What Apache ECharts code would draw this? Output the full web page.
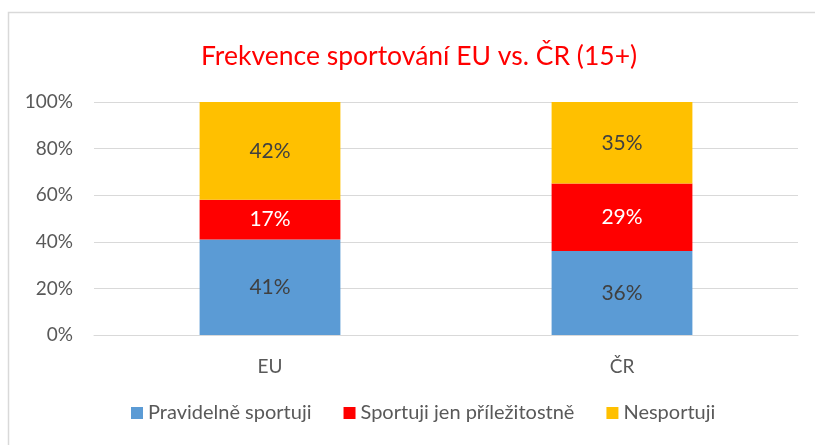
<!DOCTYPE html>
<html><head><meta charset="utf-8">
<script src="https://cdn.jsdelivr.net/npm/echarts@6/dist/echarts.min.js"></script>
<style>html,body{margin:0;padding:0;background:#fff}#c{width:815px;height:445px}</style>
</head><body><div id="c"></div>
<script>
var categories = ['EU', 'ČR'];
var regular = [41, 36];
var occasional = [17, 29];
var none = [42, 35];
var seriesNames = ['Pravidelně sportuji', 'Sportuji jen příležitostně', 'Nesportuji'];
var yTicks = [0, 20, 40, 60, 80, 100];

var font = 'Lato, "Open Sans", sans-serif';
var chart = echarts.init(document.getElementById('c'));
function lbl(color) {
  return { show: true, position: 'inside', color: color, fontSize: 21, fontFamily: font, formatter: function (p) { return p.value + '%'; } };
}
chart.setOption({
  animation: false,
  textStyle: { fontFamily: font },
  graphic: [{ type: 'rect', shape: { x: 8.5, y: 12.5, width: 900, height: 500 }, style: { fill: 'none', stroke: '#d9d9d9', lineWidth: 1.5 }, silent: true }],
  title: { text: 'Frekvence sportování EU vs. ČR (15+)', left: 196, top: 38, textStyle: { color: '#ff0000', fontSize: 26.5, fontWeight: 'normal', fontFamily: font } },
  grid: { left: 94, right: 17, top: 102, bottom: 110 },
  legend: {
    bottom: 17, left: 126, itemWidth: 12, itemHeight: 12, itemGap: 32, icon: 'rect',
    textStyle: { color: '#595959', fontSize: 20, fontFamily: font },
    data: seriesNames
  },
  xAxis: {
    type: 'category', data: categories,
    axisLine: { lineStyle: { color: '#d9d9d9' } }, axisTick: { show: false },
    axisLabel: { color: '#595959', fontSize: 19, margin: 22, fontFamily: font }
  },
  yAxis: {
    type: 'value', min: yTicks[0], max: yTicks[yTicks.length - 1], interval: 20,
    axisLine: { show: false }, axisTick: { show: false },
    splitLine: { lineStyle: { color: '#d9d9d9' } },
    axisLabel: { color: '#595959', fontSize: 19, margin: 21, fontFamily: font, formatter: '{value}%' }
  },
  series: [
    { name: seriesNames[0], type: 'bar', stack: 's', barWidth: '40%', data: regular, itemStyle: { color: '#5b9bd5' }, label: lbl('#404040') },
    { name: seriesNames[1], type: 'bar', stack: 's', data: occasional, itemStyle: { color: '#ff0000' }, label: lbl('#ffffff') },
    { name: seriesNames[2], type: 'bar', stack: 's', data: none, itemStyle: { color: '#ffc000' }, label: lbl('#404040') }
  ]
});
</script></body></html>
